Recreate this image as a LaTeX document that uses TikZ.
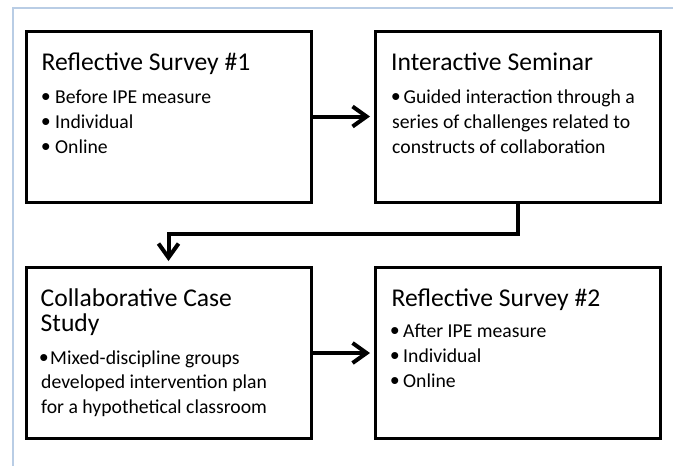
\documentclass[tikz,border=0pt]{standalone}
\usepackage{fontspec}
\setmainfont{Carlito}
\newfontfamily\bulletfont{Liberation Sans}
\usetikzlibrary{arrows.meta}
\definecolor{framecol}{HTML}{B9CDE5}
\newcommand{\bul}[1]{\makebox[#1][l]{\hspace{-0.8pt}\raisebox{-2.6pt}{\scalebox{1.3}{\bulletfont •}}}}
\begin{document}
\begin{tikzpicture}[x=1pt,y=-1pt,
  box/.style={draw, line width=3pt, minimum width=285pt, minimum height=171pt, inner sep=0pt},
  ttl/.style={anchor=base west, inner sep=0pt, font=\fontsize{25.6}{30}\selectfont},
  itm/.style={anchor=base west, inner sep=0pt, font=\fontsize{19.7}{24}\selectfont},
  conn/.style={line width=4pt, -{Straight Barb[length=14pt,width=20pt]}, shorten >=3.5pt}]
\useasboundingbox (0,0) rectangle (673,466);
% page frame
\draw[framecol, line width=1.5pt] (13,466) -- (13,8) -- (673,8);
% boxes
\node[box] (b1) at (168.5,116.5) {};
\node[box] (b2) at (517.5,116.5) {};
\node[box] (b3) at (168.5,353) {};
\node[box] (b4) at (517.5,353) {};
% box 1
\node[ttl] (t1) at (41.5,70) {Reflective Survey \#1};
\node[itm] (t1a) at (42,103) {\bul{13pt}Before IPE measure};
\node[itm] (t1b) at (42,128) {\bul{13pt}Individual};
\node[itm] (t1c) at (42,153) {\bul{13pt}Online};
% box 2
\node[ttl] (t2) at (391,70) {Interactive Seminar};
\node[itm] (t2a) at (392,103) {\bul{11.5pt}Guided interaction through a};
\node[itm] (t2b) at (392,128) {series of challenges related to};
\node[itm] (t2c) at (392,153) {constructs of collaboration};
% box 3
\node[ttl] (t3) at (40.5,306) {Collaborative Case};
\node[ttl] (t3s) at (40.5,331) {Study};
\node[itm] (t3a) at (40,364) {\bul{10pt}Mixed-discipline groups};
\node[itm] (t3b) at (41,388.5) {developed intervention plan};
\node[itm] (t3c) at (41,413) {for a hypothetical classroom};
% box 4
\node[ttl] (t4) at (391.5,306) {Reflective Survey \#2};
\node[itm] (t4a) at (391,337) {\bul{12pt}After IPE measure};
\node[itm] (t4b) at (391,362) {\bul{12pt}Individual};
\node[itm] (t4c) at (391,387) {\bul{12pt}Online};
% connectors
\draw[conn] (b1) -- (b2);
\draw[conn] (b3) -- (b4);
\draw[conn, shorten >=5pt] (b2.south) -- ++(0,30.5) -| (b3.north);
\end{tikzpicture}
\end{document}
